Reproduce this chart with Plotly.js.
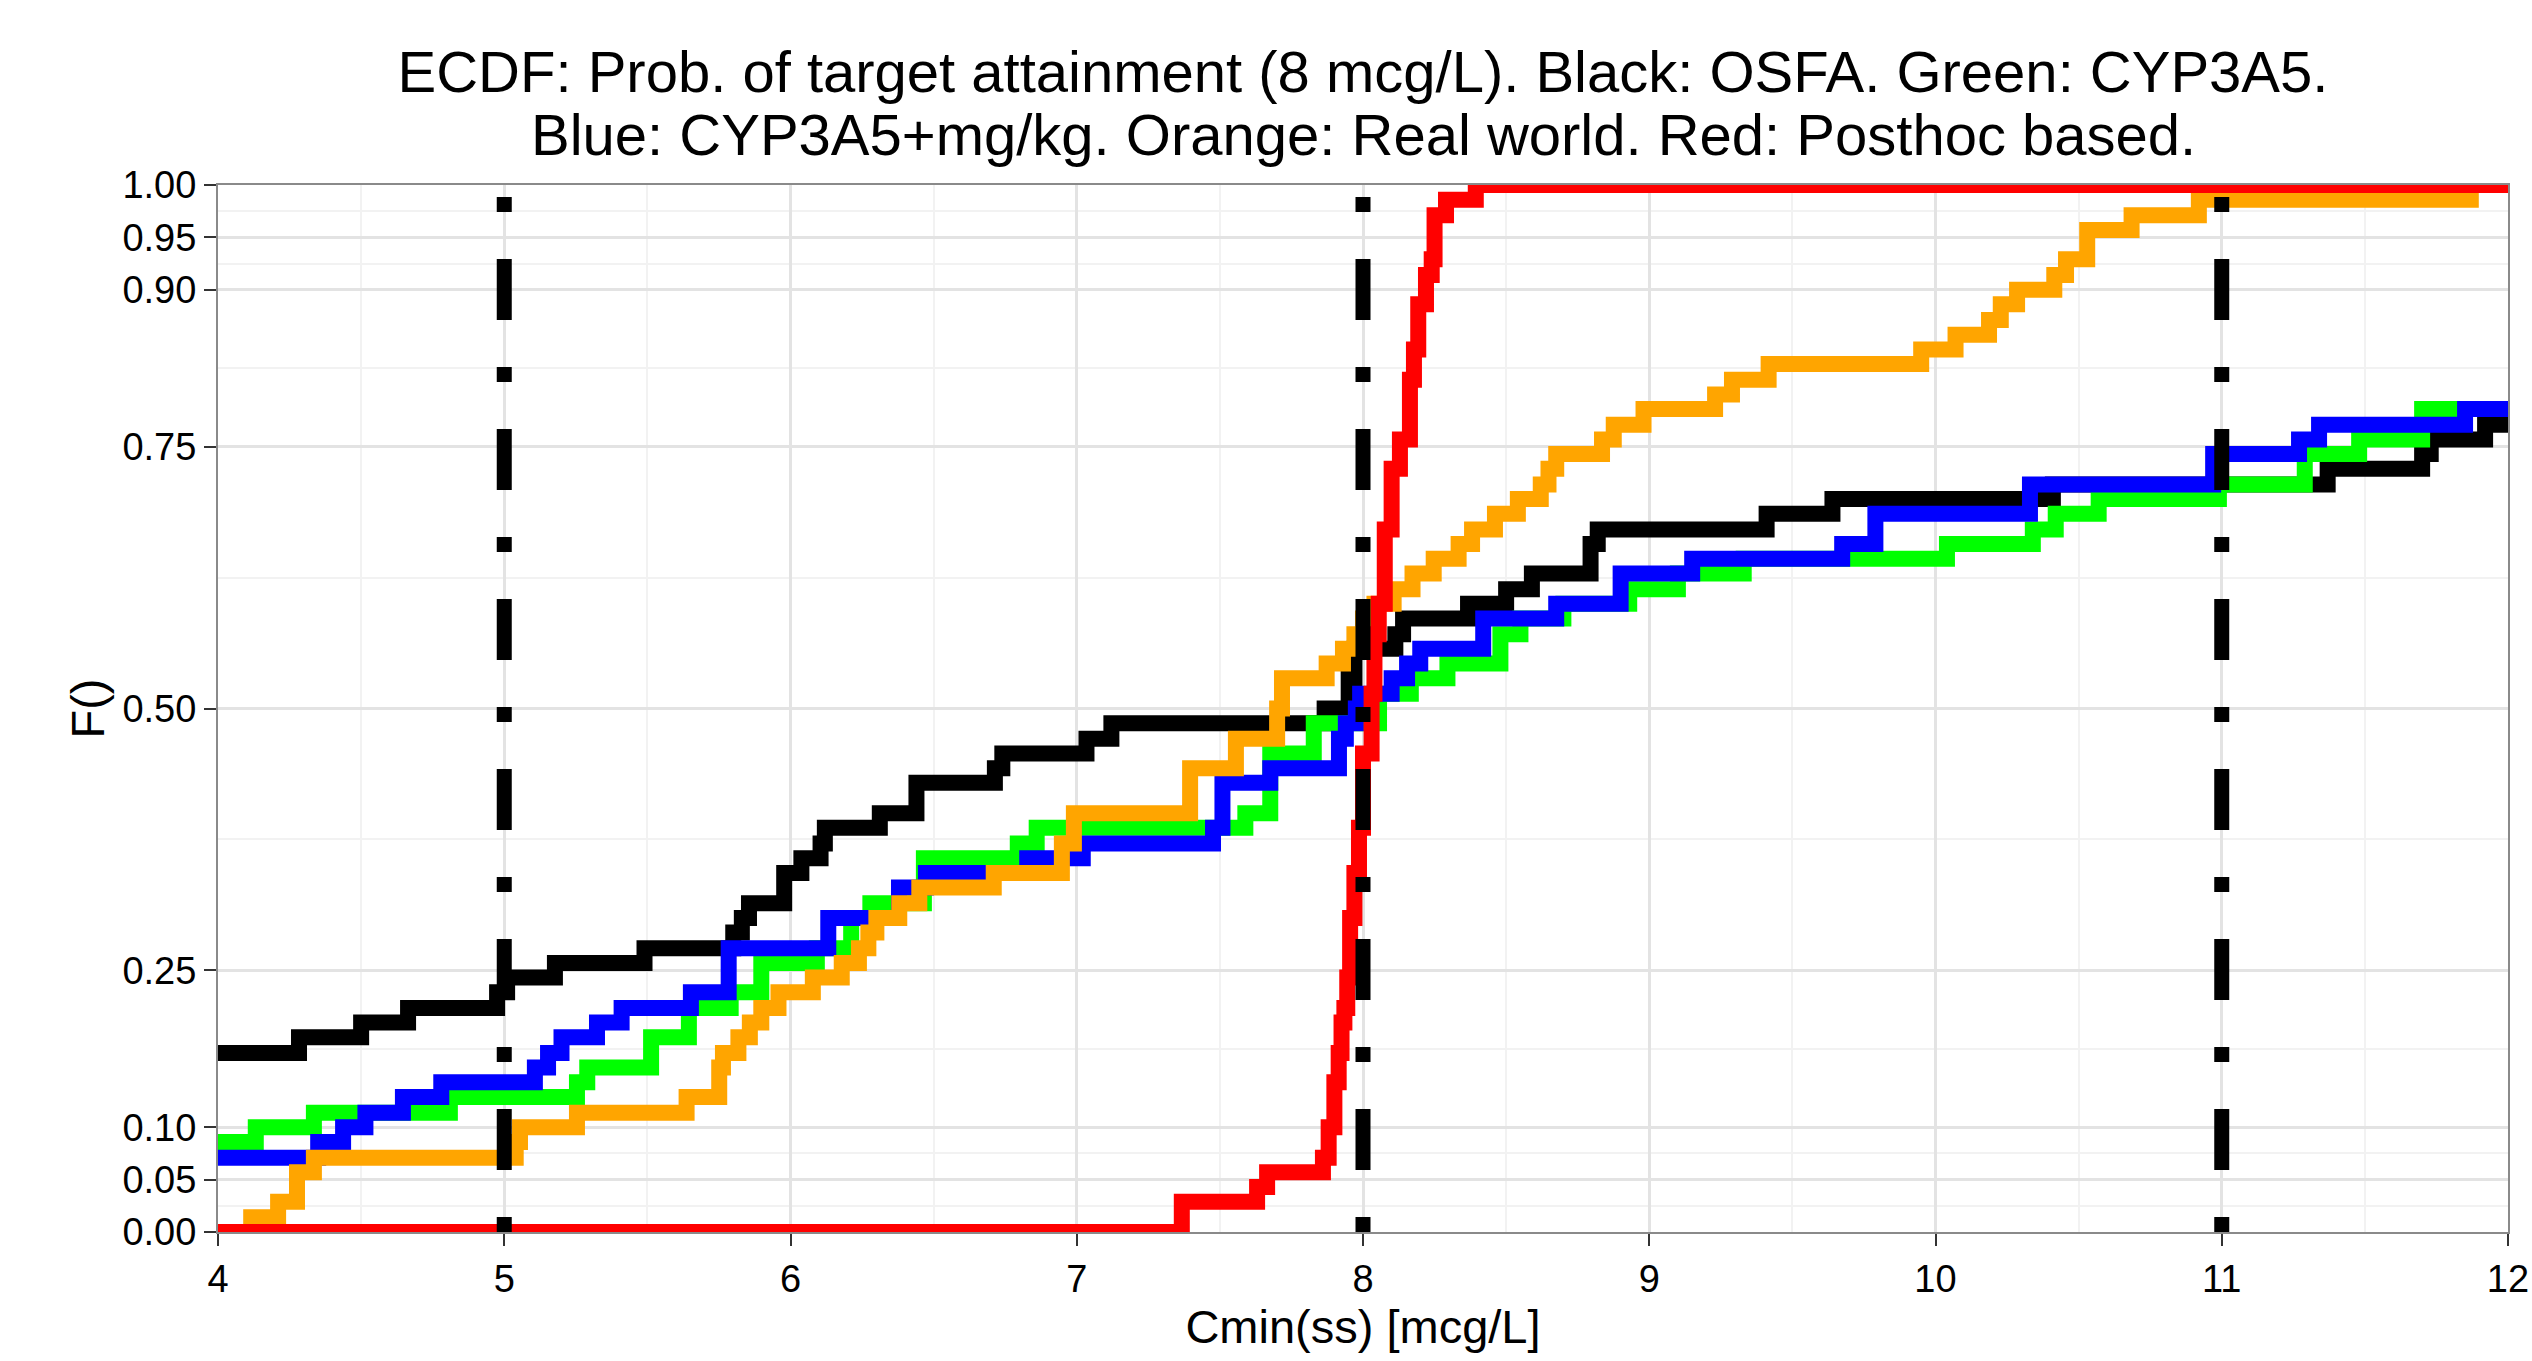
<!DOCTYPE html>
<html>
<head>
<meta charset="utf-8">
<script src="https://cdn.plot.ly/plotly-3.0.1.min.js"></script>
<style>html,body{margin:0;padding:0;background:#fff;}#chart{width:2532px;height:1361px;}</style>
</head>
<body>
<div id="chart"></div>
<script>
// ---- Data (ECDF step positions and levels after each step) ----
const blackX = [4, 4.283, 4.50, 4.664, 4.975, 5.01, 5.177, 5.49, 5.80, 5.83, 5.855, 5.978, 6.038, 6.105, 6.12, 6.312, 6.44, 6.714, 6.74, 7.034, 7.121, 7.866, 7.95, 7.97, 8.113, 8.14, 8.367, 8.50, 8.59, 8.795, 8.82, 9.41, 9.64, 10.41, 11.37, 11.70, 11.73, 11.92, 12];
const blackY = [.171, .186, .200, .214, .229, .243, .257, .271, .286, .300, .314, .343, .357, .371, .386, .400, .429, .443, .457, .471, .486, .500, .529, .557, .571, .586, .600, .614, .629, .657, .671, .686, .700, .714, .729, .743, .757, .771, .771];

const greenX = [4, 4.132, 4.335, 4.81, 5.254, 5.29, 5.513, 5.645, 5.791, 5.898, 6.092, 6.212, 6.279, 6.466, 6.794, 6.86, 7.589, 7.676, 7.828, 8.056, 8.167, 8.295, 8.48, 8.55, 8.70, 8.93, 9.10, 9.33, 10.04, 10.34, 10.42, 10.57, 10.99, 11.29, 11.48, 11.70, 12];
const greenY = [.086, .100, .114, .129, .143, .157, .186, .214, .229, .257, .271, .300, .314, .357, .371, .386, .400, .457, .486, .514, .529, .543, .571, .586, .600, .614, .629, .643, .657, .671, .686, .700, .714, .743, .757, .786, .786];

const blueX = [4, 4.35, 4.437, 4.515, 4.646, 4.78, 5.107, 5.153, 5.20, 5.324, 5.41, 5.652, 5.784, 6.132, 6.379, 6.473, 6.827, 7.021, 7.476, 7.509, 7.676, 7.916, 7.94, 7.975, 7.99, 8.10, 8.154, 8.20, 8.42, 8.675, 8.90, 9.15, 9.674, 9.79, 10.33, 10.97, 11.27, 11.34, 11.85, 12];
const blueY = [.071, .086, .100, .114, .129, .143, .157, .171, .186, .200, .214, .229, .271, .300, .329, .343, .357, .371, .386, .429, .443, .471, .486, .500, .514, .529, .543, .557, .586, .600, .629, .643, .657, .686, .714, .743, .757, .771, .786, .786];

const orangeX = [4, 4.116, 4.21, 4.276, 4.335, 5.04, 5.055, 5.254, 5.637, 5.751, 5.764, 5.818, 5.858, 5.898, 5.958, 6.078, 6.179, 6.239, 6.272, 6.30, 6.38, 6.45, 6.71, 6.948, 6.99, 7.396, 7.556, 7.70, 7.717, 7.873, 7.93, 7.97, 8.0, 8.04, 8.107, 8.173, 8.247, 8.334, 8.381, 8.461, 8.541, 8.621, 8.648, 8.675, 8.835, 8.876, 8.98, 9.23, 9.289, 9.417, 9.95, 10.07, 10.187, 10.228, 10.285, 10.415, 10.456, 10.53, 10.685, 10.92, 11.87, 12];
const orangeY = [0, .014, .029, .057, .071, .086, .100, .114, .129, .157, .171, .186, .200, .214, .229, .243, .257, .271, .286, .300, .314, .329, .343, .371, .400, .443, .471, .500, .529, .543, .557, .571, .586, .600, .614, .629, .643, .657, .671, .686, .700, .714, .729, .743, .757, .771, .786, .800, .814, .829, .843, .857, .871, .886, .900, .914, .929, .957, .971, .986, 1, 1];

const redX = [4, 7.367, 7.63, 7.665, 7.86, 7.88, 7.90, 7.915, 7.925, 7.935, 7.945, 7.955, 7.97, 7.986, 8.0, 8.03, 8.04, 8.055, 8.076, 8.10, 8.129, 8.164, 8.178, 8.193, 8.22, 8.24, 8.25, 8.29, 8.394, 12];
const redY = [0, .029, .043, .057, .071, .100, .143, .171, .200, .214, .243, .300, .343, .386, .457, .514, .571, .600, .671, .729, .757, .814, .843, .886, .914, .929, .971, .986, 1, 1];

const vlineX = [5, 8, 11];
const xTicks = [4, 5, 6, 7, 8, 9, 10, 11, 12];
const xMinor = [4.5, 5.5, 6.5, 7.5, 8.5, 9.5, 10.5, 11.5];
const yTicks = [0, 0.05, 0.10, 0.25, 0.50, 0.75, 0.90, 0.95, 1.00];
const yTickText = ["0.00", "0.05", "0.10", "0.25", "0.50", "0.75", "0.90", "0.95", "1.00"];
const yMinor = [0.025, 0.075, 0.175, 0.375, 0.625, 0.825, 0.925, 0.975];

const titleLine1 = "ECDF: Prob. of target attainment (8 mcg/L). Black: OSFA. Green: CYP3A5.";
const titleLine2 = "Blue: CYP3A5+mg/kg. Orange: Real world. Red: Posthoc based.";

// ---- Traces ----
const FONT = "Liberation Sans, Arial, Helvetica, sans-serif";
const LW = 16;
function stepTrace(x, y, color) {
  return {x: x, y: y, type: "scatter", mode: "lines", line: {shape: "hv", color: color, width: LW}, hoverinfo: "skip"};
}
const traces = [
  stepTrace(blackX, blackY, "#000000"),
  stepTrace(greenX, greenY, "#00FF00"),
  stepTrace(blueX, blueY, "#0000FF"),
  stepTrace(orangeX, orangeY, "#FFA500"),
  stepTrace(redX, redY, "#FF0000")
];
vlineX.forEach(function (v) {
  traces.push({x: [v, v], y: [0, 1], type: "scatter", mode: "lines",
    line: {color: "#000000", width: 15, dash: "15px,47px,61px,47px"}, hoverinfo: "skip"});
});

const axisCommon = {
  ticks: "outside", ticklen: 12, tickwidth: 2, tickcolor: "#333333",
  showline: true, linecolor: "#8a8a8a", linewidth: 2, mirror: true,
  showgrid: true, gridcolor: "#e3e3e3", gridwidth: 3, zeroline: false,
  tickfont: {family: FONT, size: 38, color: "#000000"}
};

const layout = {
  width: 2532, height: 1361,
  margin: {l: 218, r: 24, t: 185, b: 129, pad: 0},
  paper_bgcolor: "#ffffff", plot_bgcolor: "#ffffff",
  showlegend: false,
  font: {family: FONT, color: "#000000"},
  title: {text: titleLine1, font: {family: FONT, size: 58, color: "#000000"},
          x: 0.5, xref: "paper", xanchor: "center", y: 0.962, yref: "container", yanchor: "top"},
  annotations: [{
    text: titleLine2, font: {family: FONT, size: 58, color: "#000000"}, showarrow: false,
    xref: "paper", x: 0.5, xanchor: "center", yref: "paper", y: 1.048, yanchor: "middle"
  }],
  xaxis: Object.assign({}, axisCommon, {
    range: [4, 12], tickmode: "array", tickvals: xTicks,
    minor: {tickmode: "array", tickvals: xMinor, showgrid: true, gridcolor: "#f2f2f2", gridwidth: 2, ticks: ""},
    title: {text: "Cmin(ss) [mcg/L]", font: {family: FONT, size: 47, color: "#000000"}, standoff: 12}
  }),
  yaxis: Object.assign({}, axisCommon, {
    range: [0, 1], tickmode: "array", tickvals: yTicks, ticktext: yTickText,
    minor: {tickmode: "array", tickvals: yMinor, showgrid: true, gridcolor: "#f2f2f2", gridwidth: 2, ticks: ""},
    title: {text: "F()", font: {family: FONT, size: 47, color: "#000000"}, standoff: 3}
  })
};

Plotly.newPlot("chart", traces, layout, {staticPlot: true, displayModeBar: false});
</script>
</body>
</html>
